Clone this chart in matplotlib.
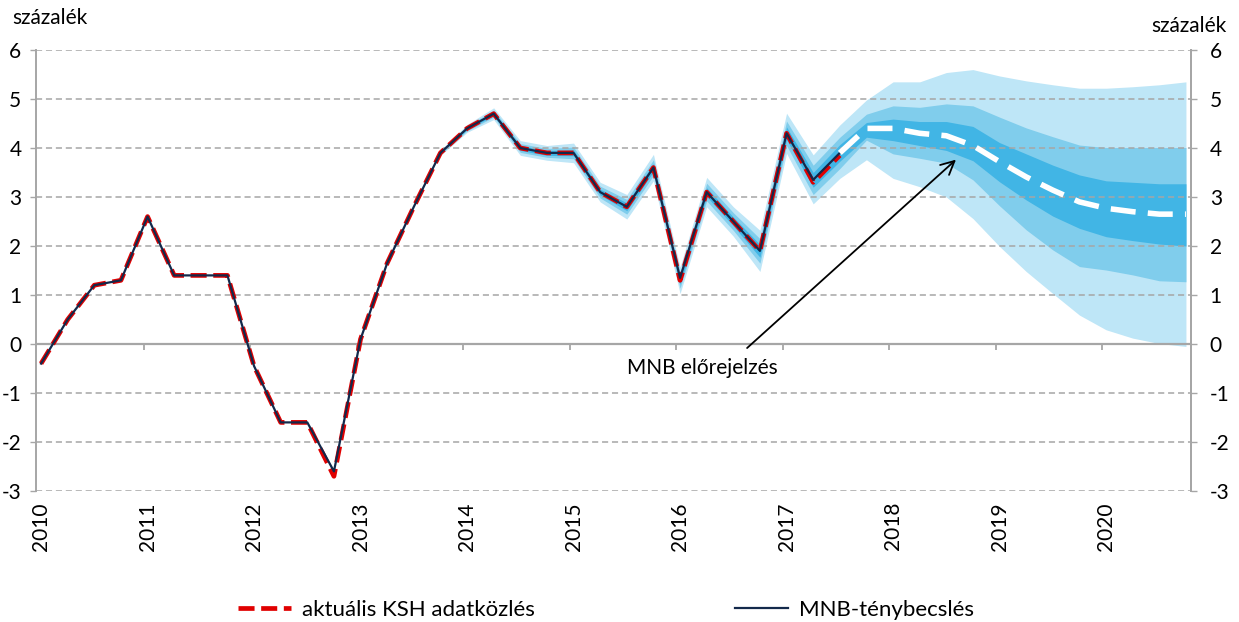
import numpy as np
import matplotlib
matplotlib.use('Agg')
from matplotlib import pyplot as plt

plt.rcParams['font.family'] = ['Lato', 'DejaVu Sans']
plt.rcParams['axes.unicode_minus'] = False

YEARS = [str(y) for y in range(2010, 2021)]

# quarterly values, 2010 Q1 ... 2017 Q3
ksh = [-0.4, 0.5, 1.2, 1.3, 2.6, 1.4, 1.4, 1.4, -0.45, -1.6, -1.6, -2.7,
       0.1, 1.65, 2.8, 3.9, 4.4, 4.7, 4.0, 3.9, 3.9, 3.1, 2.8, 3.6,
       1.3, 3.1, 2.5, 1.9, 4.3, 3.3, 3.85]
mnb = [-0.4, 0.5, 1.2, 1.3, 2.6, 1.4, 1.4, 1.4, -0.45, -1.6, -1.6, -2.6,
       0.1, 1.65, 2.8, 3.9, 4.4, 4.7, 4.0, 3.9, 3.9, 3.1, 2.8, 3.6,
       1.35, 3.1, 2.5, 1.9, 4.3, 3.35, 3.9]
# forecast central path, 2017 Q3 ... 2020 Q4
forecast = [3.9, 4.4, 4.4, 4.3, 4.25, 4.05, 3.72, 3.41, 3.14, 2.9, 2.77, 2.7, 2.65, 2.65]

# fan bands, 2013 Q4 ... 2020 Q4
light_hi = [3.95, 4.48, 4.82, 4.15, 4.05, 4.1, 3.3, 3.05, 3.87, 1.57, 3.4, 2.8, 2.32, 4.71, 3.86, 4.47,
            4.98, 5.35, 5.35, 5.54, 5.6, 5.47, 5.37, 5.29, 5.22, 5.22, 5.25, 5.29, 5.35]
light_lo = [3.85, 4.32, 4.58, 3.85, 3.75, 3.7, 2.9, 2.55, 3.33, 1.03, 2.8, 2.2, 1.48, 3.89, 2.86, 3.38,
            3.76, 3.38, 3.21, 3.0, 2.56, 1.99, 1.48, 1.03, 0.59, 0.29, 0.12, 0.01, -0.05]
mid_hi = [3.93, 4.45, 4.77, 4.09, 3.99, 4.02, 3.22, 2.95, 3.76, 1.46, 3.28, 2.68, 2.15, 4.55, 3.65, 4.22,
          4.69, 4.86, 4.83, 4.9, 4.86, 4.63, 4.41, 4.23, 4.06, 4.01, 4.01, 4.01, 4.01]
mid_lo = [3.87, 4.35, 4.63, 3.91, 3.81, 3.78, 2.98, 2.65, 3.44, 1.14, 2.92, 2.32, 1.65, 4.05, 3.05, 3.58,
          4.16, 3.88, 3.79, 3.69, 3.35, 2.82, 2.33, 1.92, 1.58, 1.51, 1.41, 1.29, 1.27]
dark_hi = [3.92, 4.42, 4.74, 4.05, 3.95, 3.96, 3.16, 2.88, 3.68, 1.38, 3.19, 2.59, 2.03, 4.43, 3.5, 4.07,
           4.52, 4.59, 4.54, 4.54, 4.44, 4.11, 3.88, 3.65, 3.45, 3.33, 3.3, 3.27, 3.27]
dark_lo = [3.88, 4.38, 4.66, 3.95, 3.85, 3.84, 3.04, 2.72, 3.52, 1.22, 3.01, 2.41, 1.77, 4.17, 3.2, 3.73,
           4.22, 4.15, 4.05, 3.95, 3.74, 3.31, 2.94, 2.61, 2.36, 2.19, 2.11, 2.04, 2.0]

LIGHT = '#bee6f7'
MID = '#80cdec'
DARK = '#41b5e5'
RED = '#e00000'
NAVY = '#13294b'
GRID = '#a6a6a6'
FS = 15

n_total = len(YEARS) * 4
x_hist = np.arange(len(ksh))
x_fc = np.arange(n_total - len(forecast), n_total)
x_fan = np.arange(n_total - len(light_hi), n_total)

fig = plt.figure(figsize=(12.39, 6.22), dpi=100)
ax = fig.add_axes([36 / 1239, 1 - 491 / 622, 1155 / 1239, 441 / 622])

ax.fill_between(x_fan, light_lo, light_hi, color=LIGHT, lw=0, zorder=1)
ax.fill_between(x_fan, mid_lo, mid_hi, color=MID, lw=0, zorder=1.1)
ax.fill_between(x_fan, dark_lo, dark_hi, color=DARK, lw=0, zorder=1.2)

for v in range(-3, 7):
    if v == 0:
        ax.axhline(0, color=GRID, lw=1.6, zorder=1.5)
    else:
        ax.axhline(v, color=GRID, lw=1.1, dashes=(4, 2.5), zorder=1.5)

red_line, = ax.plot(x_hist, ksh, color=RED, lw=3.4, dashes=(3.4, 1.4), zorder=3,
                    label='aktuális KSH adatközlés')
navy_line, = ax.plot(x_hist, mnb, color=NAVY, lw=1.6, zorder=4, label='MNB-ténybecslés')
ax.plot(x_fc, forecast, color='white', lw=4, dashes=(4.5, 2.2), zorder=4)

# year tick marks hang below the zero line
tick_pos = np.arange(len(YEARS)) * 4 - 0.15
ax.vlines(tick_pos[1:], -0.13, 0, color=GRID, lw=1.3, zorder=1.5)

ax.set_xlim(-0.19, 43.19)
ax.set_ylim(-3, 6)
ax.set_xticks(np.arange(len(YEARS)) * 4)
ax.set_xticklabels(YEARS, rotation=90, fontsize=FS)
ax.tick_params(axis='x', length=0, pad=8)

ax.set_yticks(range(-3, 7))
ax.tick_params(axis='y', direction='out', length=4.5, width=1, color=GRID, labelsize=FS, pad=6)
for side in ['top', 'bottom']:
    ax.spines[side].set_visible(False)
for side in ['left', 'right']:
    ax.spines[side].set_color(GRID)
    ax.spines[side].set_linewidth(1.4)

ax2 = ax.twinx()
ax2.set_ylim(-3, 6)
ax2.set_yticks(range(-3, 7))
ax2.tick_params(axis='y', direction='out', length=4.5, width=1, color=GRID, labelsize=FS, pad=9)
for side in ['top', 'bottom', 'left']:
    ax2.spines[side].set_visible(False)
ax2.spines['right'].set_color(GRID)
ax2.spines['right'].set_linewidth(1.4)

fig.text(12 / 1239, 1 - 18 / 622, 'százalék', fontsize=FS, ha='left', va='center')
fig.text(1227 / 1239, 1 - 26 / 622, 'százalék', fontsize=FS, ha='right', va='center')

ax.annotate('', xy=(34.44, 3.8), xytext=(26.44, -0.12),
            arrowprops=dict(arrowstyle='->', color='black', lw=1.3, mutation_scale=24), zorder=6)
ax.text(24.83, -0.5, 'MNB előrejelzés', fontsize=FS, ha='center', va='center', zorder=6)

fig.legend(handles=[red_line, navy_line], loc='center', ncol=2,
           bbox_to_anchor=(606 / 1239, 1 - 610 / 622), frameon=False, fontsize=16,
           handlelength=2.4, handletextpad=0.5, columnspacing=9.0)

fig.savefig('out.png', dpi=100)
